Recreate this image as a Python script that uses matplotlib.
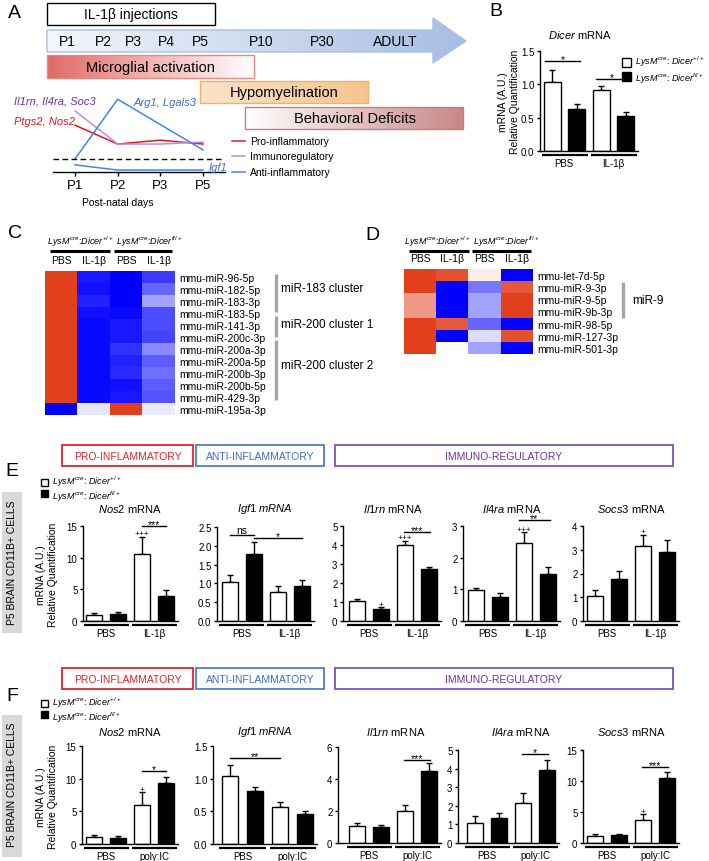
import numpy as np
import matplotlib
matplotlib.use('Agg')
import matplotlib.pyplot as plt
from matplotlib.colors import LinearSegmentedColormap, to_rgb
from matplotlib.patches import Rectangle, Polygon
from matplotlib.transforms import blended_transform_factory, offset_copy

plt.rcParams['font.family'] = ['Liberation Sans', 'DejaVu Sans']
plt.rcParams['mathtext.fontset'] = 'custom'
plt.rcParams['mathtext.rm'] = 'Liberation Sans'
plt.rcParams['mathtext.it'] = 'Liberation Sans:italic'
plt.rcParams['mathtext.bf'] = 'Liberation Sans:bold'

# ---------------- DATA ----------------
timeline_labels = ['P1', 'P2', 'P3', 'P4', 'P5', 'P10', 'P30', 'ADULT']
course_days = ['P1', 'P2', 'P3', 'P5']
pro_inflam = [3.6, 2.15, 2.45, 2.15]
immunoreg = [4.7, 2.15, 2.15, 2.3]
anti_days = ['P1', 'P2', 'P5']
anti_inflam = [1.0, 5.6, 1.7]
igf1_course = [0.55, 0.15, 0.15, 0.15]

dicer_groups = ['PBS', 'IL-1β']
dicer_vals = [1.04, 0.63, 0.92, 0.52]      # PBS wt, PBS fl, IL wt, IL fl
dicer_errs = [0.18, 0.07, 0.06, 0.06]

heat_cols = ['PBS', 'IL-1β', 'PBS', 'IL-1β']
c_rows = ['mmu-miR-96-5p', 'mmu-miR-182-5p', 'mmu-miR-183-3p', 'mmu-miR-183-5p',
          'mmu-miR-141-3p', 'mmu-miR-200c-3p', 'mmu-miR-200a-3p', 'mmu-miR-200a-5p',
          'mmu-miR-200b-3p', 'mmu-miR-200b-5p', 'mmu-miR-429-3p', 'mmu-miR-195a-3p']
c_vals = [[1.5, -1.35, -1.5, -1.15],
          [1.5, -1.4, -1.5, -0.9],
          [1.5, -1.3, -1.5, -0.55],
          [1.5, -1.4, -1.45, -1.05],
          [1.5, -1.45, -1.35, -1.05],
          [1.5, -1.45, -1.35, -1.1],
          [1.5, -1.45, -1.2, -0.7],
          [1.5, -1.45, -1.3, -0.95],
          [1.5, -1.45, -1.25, -0.85],
          [1.5, -1.45, -1.4, -0.95],
          [1.5, -1.45, -1.35, -1.0],
          [-1.5, -0.15, 1.5, -0.12]]
d_rows = ['mmu-let-7d-5p', 'mmu-miR-9-3p', 'mmu-miR-9-5p', 'mmu-miR-9b-3p',
          'mmu-miR-98-5p', 'mmu-miR-127-3p', 'mmu-miR-501-3p']
d_vals = [[1.5, 1.35, 0.15, -1.5],
          [1.5, -1.5, -0.8, 1.3],
          [0.8, -1.5, -0.55, 1.5],
          [0.8, -1.5, -0.55, 1.5],
          [1.5, 1.3, -0.9, -1.5],
          [1.5, -1.5, -0.2, 1.35],
          [1.5, 0.0, -0.55, -1.5]]

e_groups = ['PBS', 'IL-1β']
f_groups = ['PBS', 'poly:IC']
# order: PBS wt, PBS fl, treat wt, treat fl
e_nos2 = [1.0, 1.1, 10.6, 4.0];     e_nos2_err = [0.3, 0.35, 2.7, 0.85]
e_igf1 = [1.05, 1.78, 0.76, 0.92];  e_igf1_err = [0.17, 0.33, 0.17, 0.17]
e_il1rn = [1.03, 0.63, 3.98, 2.72]; e_il1rn_err = [0.15, 0.11, 0.25, 0.14]
e_il4ra = [0.99, 0.75, 2.46, 1.48]; e_il4ra_err = [0.05, 0.15, 0.34, 0.23]
e_socs3 = [1.06, 1.77, 3.16, 2.9];  e_socs3_err = [0.24, 0.35, 0.47, 0.5]

f_nos2 = [1.07, 0.9, 5.9, 9.3];     f_nos2_err = [0.33, 0.3, 2.0, 0.9]
f_igf1 = [1.04, 0.81, 0.57, 0.46];  f_igf1_err = [0.17, 0.06, 0.07, 0.04]
f_il1rn = [1.06, 0.98, 2.0, 4.5];   f_il1rn_err = [0.22, 0.12, 0.38, 0.5]
f_il4ra = [1.1, 1.33, 2.17, 3.92];  f_il4ra_err = [0.35, 0.27, 0.52, 0.52]
f_socs3 = [1.1, 1.25, 3.7, 10.5];   f_socs3_err = [0.35, 0.2, 0.95, 0.9]

# ---------------- FIGURE ----------------
W, H = 709, 862
fig = plt.figure(figsize=(W / 100, H / 100), dpi=100)


def px_ax(x0, y0, x1, y1):
    ax = fig.add_axes([x0 / W, 1 - y1 / H, (x1 - x0) / W, (y1 - y0) / H])
    ax.set_facecolor('none')
    return ax


def ftext(x, y, s, **kw):
    kw.setdefault('ha', 'center')
    kw.setdefault('va', 'center')
    return fig.text(x / W, 1 - y / H, s, **kw)


ov = px_ax(0, 0, W, H)
ov.set_xlim(0, W)
ov.set_ylim(H, 0)
ov.set_autoscale_on(False)
ov.axis('off')


def grad_fill(x0, y0, x1, y1, cl, cr, clip=None):
    a = np.array(to_rgb(cl))
    b = np.array(to_rgb(cr))
    t = np.linspace(0, 1, 256)[None, :, None]
    img = a + (b - a) * t
    im = ov.imshow(img, extent=(x0, x1, y1, y0), aspect='auto',
                   interpolation='bilinear', zorder=1)
    if clip is not None:
        im.set_clip_path(clip)
    return im


# ---------------- PANEL A ----------------
ftext(8, 14, 'A', fontsize=14, ha='left')
ov.add_patch(Rectangle((47, 4), 168, 22, fc='white', ec='black', lw=1.0, zorder=2))
ftext(131, 15, 'IL-1β injections', fontsize=10)

arrow_pts = [(47, 31), (433, 31), (433, 19), (466, 42), (433, 64), (433, 53), (47, 53)]
arrow = Polygon(arrow_pts, closed=True, fc='none', ec='#a9c0e6', lw=1.0, zorder=2)
ov.add_patch(arrow)
grad_fill(47, 19, 466, 64, '#f4f7fc', '#a7bde2', clip=arrow)
tl_x = [67, 103, 133, 166, 200, 261, 322, 395]
for lab, x in zip(timeline_labels, tl_x):
    ftext(x, 42, lab, fontsize=10)

grad_fill(47, 56, 254, 79, '#e06a66', '#ffffff')
ov.add_patch(Rectangle((47, 56), 207, 23, fc='none', ec='#e88880', lw=1.0, zorder=2))
ftext(150, 68, 'Microglial activation', fontsize=10.5)

grad_fill(200, 82, 368, 104, '#fbe3c8', '#f4c58f')
ov.add_patch(Rectangle((200, 82), 168, 22, fc='none', ec='#f2b266', lw=1.0, zorder=2))
ftext(284, 93, 'Hypomyelination', fontsize=10.5)

grad_fill(245, 108, 463, 130, '#ffffff', '#c98787')
ov.add_patch(Rectangle((245, 108), 218, 22, fc='none', ec='#c08080', lw=1.0, zorder=2))
ftext(355, 119, 'Behavioral Deficits', fontsize=10.5)

axA = px_ax(53, 95, 225, 173)
px_unit = (203 - 75) / 3
axA.set_xlim(-(75 - 53) / px_unit, (225 - 75) / px_unit)
axA.set_ylim(0, (173 - 95) / 13)
cx = np.arange(len(course_days))
ax_anti = [course_days.index(d) for d in anti_days]
axA.plot(cx, pro_inflam, color='#e8141e', lw=1.1)
axA.plot(cx, immunoreg, color='#c48ae8', lw=1.1)
axA.plot(ax_anti, anti_inflam, color='#3d85f0', lw=1.1)
axA.plot(cx, igf1_course, color='#3d85f0', lw=1.1)
axA.axhline(1.0, color='black', lw=1.0, ls=(0, (4, 2.5)))
for s in ['top', 'right', 'left']:
    axA.spines[s].set_visible(False)
axA.spines['bottom'].set_linewidth(1.0)
axA.set_yticks([])
axA.set_xticks(cx, course_days)
axA.tick_params(axis='x', direction='out', length=3, width=1, labelsize=9.5, pad=2)
ftext(118, 203, 'Post-natal days', fontsize=7.5)
ftext(14, 102, 'Il1rn, Il4ra, Soc3', fontsize=8, style='italic', color='#7030a0', ha='left')
ftext(14, 122, 'Ptgs2, Nos2', fontsize=8, style='italic', color='#e8141e', ha='left')
ftext(134, 103, 'Arg1, Lgals3', fontsize=8, style='italic', color='#3d70d0', ha='left')
ftext(209, 168, 'Igf1', fontsize=8, style='italic', color='#3d70d0', ha='left')
for y, c, lab in [(142, '#e8141e', 'Pro-inflammatory'), (157, '#c48ae8', 'Immunoregulatory'),
                  (173, '#3d85f0', 'Anti-inflammatory')]:
    ov.plot([232, 245], [y, y], color=c, lw=1.1)
    ftext(250, y, lab, fontsize=7.5, ha='left')


# ---------------- BAR PANEL HELPER ----------------
def bar_panel(spine_x, c0, y_zero, y_top, ymax, yticks, fmt, vals, errs, groups,
              sigs=(), plus=(), step=24, bw=16, grp_dy=4, lab_dy=7):
    right = c0 + 3 * step + 12
    ax = px_ax(spine_x, y_top, right, y_zero)
    xs = np.arange(len(vals))
    ax.set_xlim(-(c0 - spine_x) / step, (right - c0) / step)
    ax.set_ylim(0, ymax)
    cols = ['white', 'black', 'white', 'black']
    ax.errorbar(xs, vals, yerr=[np.zeros(len(vals)), errs], fmt='none', ecolor='black',
                elinewidth=1.0, capsize=2.5, capthick=1.0, zorder=1)
    ax.bar(xs, vals, width=bw / step, color=cols, edgecolor='black', lw=1.0, zorder=2)
    for s in ['top', 'right']:
        ax.spines[s].set_visible(False)
    ax.spines['left'].set_linewidth(1.0)
    ax.spines['bottom'].set_linewidth(1.0)
    ax.set_xticks([])
    ax.set_yticks(yticks, [fmt.format(v) for v in yticks])
    ax.tick_params(axis='y', direction='out', length=2.5, width=1, labelsize=7, pad=1.5)
    trans = blended_transform_factory(ax.transData, ax.transAxes)
    ltr = offset_copy(trans, fig=fig, y=-grp_dy, units='dots')
    ttr = offset_copy(trans, fig=fig, y=-lab_dy, units='dots')
    for g, lab in enumerate(groups):
        a, b = 2 * g - 0.42, 2 * g + 1 + 0.45
        ax.plot([a, b], [0, 0], color='black', lw=1.6, transform=ltr, clip_on=False,
                solid_capstyle='butt')
        ax.text(2 * g + 0.5, 0, lab, transform=ttr, ha='center', va='top', fontsize=7)
    for i0, i1, yv, lab in sigs:
        ax.plot([i0, i1], [yv, yv], color='black', lw=1.0, clip_on=False)
        dy = -0.5 if lab == 'ns' else -2.2
        ax.annotate(lab, ((i0 + i1) / 2, yv), xytext=(0, dy), textcoords='offset points',
                    ha='center', va='bottom', fontsize=7.5, annotation_clip=False)
    for i, lab in plus:
        ax.annotate(lab, (i, vals[i] + errs[i]), xytext=(0, -0.5),
                    textcoords='offset points', ha='center', va='bottom', fontsize=6,
                    annotation_clip=False)
    return ax


# ---------------- PANEL B ----------------
ftext(496, 12, 'B', fontsize=14)
ftext(580, 35, r'$\mathit{Dicer}$ mRNA', fontsize=8)
bar_panel(540, 552, 152, 52, 1.5, [0, 0.5, 1.0, 1.5], '{:.1f}', dicer_vals, dicer_errs,
          dicer_groups, sigs=[(-0.3, 1.15, 1.35, '*'), (1.8, 3.1, 1.08, '*')],
          step=24.5, bw=17)
ftext(509, 102, 'mRNA (A.U.)\nRelative Quantification', fontsize=7.5, rotation=90,
      multialignment='center')
ov.add_patch(Rectangle((622, 59), 9, 9, fc='white', ec='black', lw=1.0))
ov.add_patch(Rectangle((622, 73), 9, 9, fc='black', ec='black', lw=1.0))
ftext(635, 70.5, r'$\mathit{LysM}^{cre}$: $\mathit{Dicer}^{+/+}$' + '\n' +
      r'$\mathit{LysM}^{cre}$: $\mathit{Dicer}^{fl/+}$', fontsize=6.5, ha='left',
      linespacing=1.25)

# ---------------- HEATMAPS ----------------
hm_cmap = LinearSegmentedColormap.from_list('hm', ['#0000ff', '#ffffff', '#e2401c'])


def heatmap(x0, y0, x1, y1, vals, rows):
    ax = px_ax(x0, y0, x1, y1)
    ax.imshow(np.array(vals), cmap=hm_cmap, vmin=-1.5, vmax=1.5, aspect='auto',
              interpolation='nearest')
    ax.set_xticks(range(len(heat_cols)), heat_cols)
    ax.xaxis.tick_top()
    ax.yaxis.tick_right()
    ax.set_yticks(range(len(rows)), rows)
    ax.tick_params(length=0, labelsize=7.5, pad=3)
    ax.tick_params(axis='x', labelsize=7.5, pad=4)
    for s in ax.spines.values():
        s.set_visible(False)
    return ax


hdr = (r'$\mathit{LysM}^{cre}$:$\mathit{Dicer}^{+/+}$ '
       r'$\mathit{LysM}^{cre}$:$\mathit{Dicer}^{fl/+}$')

ftext(8, 233, 'C', fontsize=14, ha='left')
heatmap(45, 272, 175, 416, c_vals, c_rows)
ftext(47, 242, hdr, fontsize=6.5, ha='left')
ov.plot([50, 110], [252, 252], color='black', lw=2.2, solid_capstyle='butt')
ov.plot([114, 172], [252, 252], color='black', lw=2.2, solid_capstyle='butt')
for ya, yb in [(275, 313), (317, 338), (341, 401)]:
    ov.plot([276, 276], [ya, yb], color='#a6a6a6', lw=2.4, solid_capstyle='butt')
ftext(281, 289, 'miR-183 cluster', fontsize=8.5, ha='left')
ftext(281, 325, 'miR-200 cluster 1', fontsize=8.5, ha='left')
ftext(281, 366, 'miR-200 cluster 2', fontsize=8.5, ha='left')

ftext(372, 235, 'D', fontsize=14)
heatmap(404, 270, 533, 355, d_vals, d_rows)
ftext(404, 242, hdr, fontsize=6.5, ha='left')
ov.plot([409, 469], [252, 252], color='black', lw=2.2, solid_capstyle='butt')
ov.plot([472, 531], [252, 252], color='black', lw=2.2, solid_capstyle='butt')
ov.plot([623, 623], [283, 319], color='#a6a6a6', lw=2.4, solid_capstyle='butt')
ftext(632, 301, 'miR-9', fontsize=8.5, ha='left')


# ---------------- PANELS E / F ----------------
def category_boxes(y0, y1):
    ym = (y0 + y1) / 2
    for xa, xb, ec, tc, lab in [(62, 193, '#e8202a', '#e8202a', 'PRO-INFLAMMATORY'),
                                (196, 324, '#4a7fd0', '#3a6fc8', 'ANTI-INFLAMMATORY'),
                                (335, 673, '#8050c0', '#7030a0', 'IMMUNO-REGULATORY')]:
        ov.add_patch(Rectangle((xa, y0), xb - xa, y1 - y0, fc='none', ec=ec, lw=1.3))
        ftext((xa + xb) / 2, ym + 0.5, lab, fontsize=7.5, color=tc)


def side_block(yc, y0, y1, sq_y):
    ov.add_patch(Rectangle((2, y0), 20, y1 - y0, fc='#d9d9d9', ec='none'))
    ftext(12, yc, 'P5 BRAIN CD11B+ CELLS', fontsize=7.5, rotation=90)
    ov.add_patch(Rectangle((41, sq_y), 7, 7, fc='white', ec='black', lw=1.0))
    ov.add_patch(Rectangle((41, sq_y + 10.5), 7, 7, fc='black', ec='black', lw=1.0))
    ftext(52, sq_y + 9, r'$\mathit{LysM}^{cre}$: $\mathit{Dicer}^{+/+}$' + '\n' +
          r'$\mathit{LysM}^{cre}$: $\mathit{Dicer}^{fl/+}$', fontsize=6.5, ha='left',
          linespacing=1.05)


titles = [r'$\mathit{Nos2}$ mRNA', r'$\mathit{Igf1\ mRNA}$', r'$\mathit{Il1rn}$ mRNA',
          r'$\mathit{Il4ra}$ mRNA', r'$\mathit{Socs3}$ mRNA']

# E
ftext(12, 472, 'E', fontsize=14)
category_boxes(446, 467)
side_block(563, 493, 634, 480)
ftext(47, 575, 'mRNA (A.U.)\nRelative Quantification', fontsize=7.5, rotation=90,
      multialignment='center')
for x, t in zip([130, 265, 393, 512, 631], titles):
    ftext(x, 509, t, fontsize=8)
bar_panel(83, 94, 622, 527, 15, [0, 5, 10, 15], '{:d}', e_nos2, e_nos2_err, e_groups,
          sigs=[(2, 3, 15.0, '***')], plus=[(2, '+++')])
bar_panel(217, 229.5, 622, 528, 2.5, [0, 0.5, 1.0, 1.5, 2.0, 2.5], '{:.1f}', e_igf1,
          e_igf1_err, e_groups, sigs=[(0, 1, 2.3, 'ns'), (1, 3, 2.22, '*')])
bar_panel(343, 357, 622, 527, 5, [0, 1, 2, 3, 4, 5], '{:d}', e_il1rn, e_il1rn_err,
          e_groups, sigs=[(1.95, 3.05, 4.7, '***')], plus=[(1, '+'), (2, '+++')])
bar_panel(463, 475.5, 622, 527, 3, [0, 1, 2, 3], '{:d}', e_il4ra, e_il4ra_err,
          e_groups, sigs=[(1.8, 3.1, 3.18, '**')], plus=[(2, '+++')])
bar_panel(583, 595, 622, 527, 4, [0, 1, 2, 3, 4], '{:d}', e_socs3, e_socs3_err,
          e_groups, plus=[(2, '+')])

# F
ftext(12, 697, 'F', fontsize=14)
category_boxes(669, 690)
side_block(785, 716, 858, 701)
ftext(47, 797, 'mRNA (A.U.)\nRelative Quantification', fontsize=7.5, rotation=90,
      multialignment='center')
for x, t in zip([130, 265, 396, 521, 631], titles):
    ftext(x, 732, t, fontsize=8)
bar_panel(82, 94, 845, 747, 15, [0, 5, 10, 15], '{:d}', f_nos2, f_nos2_err, f_groups,
          sigs=[(2, 3, 11.2, '*')], plus=[(2, '+')])
bar_panel(213, 230, 845, 747, 1.5, [0, 0.5, 1.0, 1.5], '{:.1f}', f_igf1, f_igf1_err,
          f_groups, sigs=[(0, 2, 1.32, '**')], step=25)
bar_panel(338, 357, 844, 748, 6, [0, 2, 4, 6], '{:d}', f_il1rn, f_il1rn_err, f_groups,
          sigs=[(1.95, 3.05, 5.2, '***')])
bar_panel(458, 475, 844, 751, 5, [0, 1, 2, 3, 4, 5], '{:d}', f_il4ra, f_il4ra_err,
          f_groups, sigs=[(1.95, 3.05, 4.8, '*')])
bar_panel(583, 595, 844, 751, 15, [0, 5, 10, 15], '{:d}', f_socs3, f_socs3_err,
          f_groups, sigs=[(1.95, 3.05, 12.3, '***')], plus=[(2, '+')])

fig.savefig('out.png', dpi=100)
